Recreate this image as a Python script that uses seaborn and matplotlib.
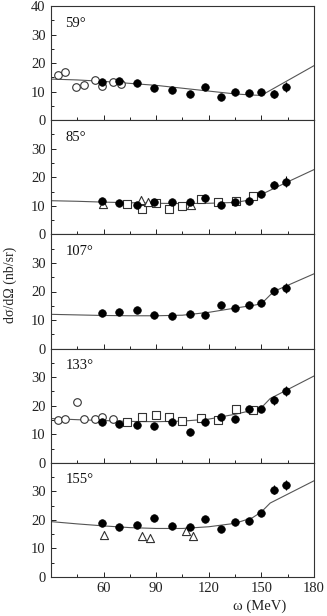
import numpy as np
import pandas as pd
import matplotlib
matplotlib.use("Agg")
import matplotlib.pyplot as plt
import seaborn as sns
from matplotlib.ticker import FixedLocator, MultipleLocator

sns.set_theme(style="ticks")
plt.rcParams['font.family'] = ['Liberation Serif', 'DejaVu Serif']
plt.rcParams['mathtext.fontset'] = 'stix'

angles = ["59°", "85°", "107°", "133°", "155°"]

# TAPS (filled circles)
taps_x = [59, 69, 79, 89, 99, 109, 118, 127, 135, 143, 150, 157, 164]
taps_59 = [13.3, 13.8, 13.1, 11.3, 10.7, 9.3, 11.7, 8.1, 9.9, 9.4, 10.0, 9.2, 11.7]
taps_85 = [11.8, 11.0, 10.3, 11.2, 11.2, 11.2, 12.8, 10.4, 11.3, 11.8, 14.1, 17.3, 18.5]
taps_107 = [12.5, 12.9, 13.6, 11.8, 11.5, 12.0, 11.6, 15.4, 14.2, 15.2, 15.8, 20.1, 21.3]
taps_133 = [14.3, 13.7, 13.1, 12.9, 14.2, 10.7, 14.4, 16.0, 15.2, 18.7, 19.0, 21.9, 25.2]
taps_155 = [19.0, 17.5, 18.3, 20.5, 17.9, 17.4, 20.3, 16.7, 19.3, 19.6, 22.5, 30.6, 32.1]
taps_err = [0.6, 0.6, 0.6, 0.6, 0.6, 0.6, 0.7, 0.7, 0.8, 0.9, 1.0, 1.5, 1.8]

# open circles
oc_x_59 = [34, 38, 44, 49, 55, 59, 65.5, 70]
oc_59 = [15.9, 16.9, 11.5, 12.5, 14.0, 12.1, 13.4, 12.7]
oc_x_133 = [34, 38, 44.6, 49, 55, 59, 65.5]
oc_133 = [15.1, 15.3, 21.2, 15.2, 15.2, 16.2, 15.5]

# open squares
sq_x = [73.5, 82, 89.8, 97.2, 105, 115.3, 125.2, 135.5, 145.3]
sq_85 = [10.8, 9.0, 11.0, 8.8, 9.8, 12.3, 11.3, 11.8, 13.5]
sq_133 = [14.4, 16.0, 16.7, 16.0, 14.7, 15.8, 14.9, 18.7, 18.4]

# open triangles
tr_x_85 = [59.8, 81.1, 85.5, 109.9]
tr_85 = [10.8, 11.9, 11.3, 10.2]
tr_x_155 = [60, 82, 86.6, 107, 111]
tr_155 = [14.7, 14.2, 13.7, 16.0, 14.4]

# theory curves
cx_59 = [30, 45, 60, 75, 90, 105, 120, 135, 145, 150, 165, 180]
cy_59 = [14.4, 14.1, 13.6, 12.9, 12.2, 11.2, 10.2, 9.2, 8.8, 8.7, 13.9, 19.1]
cx_85 = [30, 45, 60, 75, 90, 105, 120, 135, 145, 150, 165, 180]
cy_85 = [11.8, 11.6, 11.3, 11.1, 10.9, 10.8, 10.9, 11.2, 12.2, 14.0, 18.4, 22.7]
cx_107 = [30, 45, 60, 75, 90, 105, 120, 135, 145, 150, 157, 180]
cy_107 = [12.0, 11.8, 11.6, 11.5, 11.5, 11.7, 12.7, 14.2, 15.1, 15.7, 20.0, 26.2]
cx_133 = [30, 45, 60, 75, 90, 105, 120, 135, 145, 150, 155, 180]
cy_133 = [15.5, 15.1, 14.8, 14.5, 14.4, 14.6, 15.3, 17.0, 18.4, 19.3, 22.5, 30.4]
cx_155 = [30, 45, 60, 75, 90, 105, 120, 135, 145, 150, 155, 180]
cy_155 = [19.4, 18.6, 17.9, 17.3, 17.0, 17.0, 17.6, 18.8, 20.8, 22.8, 25.9, 33.7]

panels = [
    dict(label=angles[0], taps=taps_59, oc=(oc_x_59, oc_59), curve=(cx_59, cy_59)),
    dict(label=angles[1], taps=taps_85, sq=(sq_x, sq_85), tr=(tr_x_85, tr_85), curve=(cx_85, cy_85)),
    dict(label=angles[2], taps=taps_107, curve=(cx_107, cy_107)),
    dict(label=angles[3], taps=taps_133, oc=(oc_x_133, oc_133), sq=(sq_x, sq_133), curve=(cx_133, cy_133)),
    dict(label=angles[4], taps=taps_155, tr=(tr_x_155, tr_155), curve=(cx_155, cy_155)),
]

W, H = 327, 616
fig = plt.figure(figsize=(W / 100, H / 100), dpi=100)
left, right = 51 / W, 314 / W
top_px, bot_px = 6, 577
ph = (bot_px - top_px) / 5

fs = 10.5
axes = []
for i, p in enumerate(panels):
    y0 = bot_px - (5 - i) * ph + ph
    ax = fig.add_axes([left, 1 - (top_px + (i + 1) * ph) / H, right - left, ph / H])
    axes.append(ax)
    ax.set_facecolor("white")
    cdf = pd.DataFrame({"w": p["curve"][0], "s": p["curve"][1]})
    sns.lineplot(data=cdf, x="w", y="s", ax=ax, color="#555555", lw=0.8, zorder=2)
    if "oc" in p:
        ax.errorbar(p["oc"][0], p["oc"][1], yerr=0.9, fmt="none", ecolor="#333333", elinewidth=0.7, zorder=3)
        sns.scatterplot(x=p["oc"][0], y=p["oc"][1], ax=ax, marker="o", s=30,
                        facecolor="white", edgecolor="#333333", linewidth=0.8, zorder=4)
    if "sq" in p:
        ax.errorbar(p["sq"][0], p["sq"][1], yerr=0.9, fmt="none", ecolor="#333333", elinewidth=0.7, zorder=3)
        sns.scatterplot(x=p["sq"][0], y=p["sq"][1], ax=ax, marker="s", s=34,
                        facecolor="white", edgecolor="#333333", linewidth=0.8, zorder=4)
    if "tr" in p:
        sns.scatterplot(x=p["tr"][0], y=p["tr"][1], ax=ax, marker="^", s=34,
                        facecolor="white", edgecolor="#333333", linewidth=0.8, zorder=4)
    ax.errorbar(taps_x, p["taps"], yerr=taps_err, fmt="none", ecolor="black", elinewidth=0.8, zorder=5)
    sns.scatterplot(x=taps_x, y=p["taps"], ax=ax, marker="o", s=30, color="black",
                    edgecolor="black", linewidth=0.5, zorder=6)

    ax.set_xlim(30, 180)
    ax.set_ylim(0, 40)
    ax.xaxis.set_major_locator(FixedLocator([60, 90, 120, 150, 180]))
    ax.xaxis.set_minor_locator(FixedLocator([30, 45, 75, 105, 135, 165]))
    if i == 0:
        ax.set_yticks([0, 10, 20, 30, 40])
    else:
        ax.set_yticks([0, 10, 20, 30])
    ax.yaxis.set_minor_locator(MultipleLocator(5))
    ax.tick_params(axis="both", which="both", direction="in", labelsize=fs, colors="#222222",
                   top=False, right=False)
    ax.tick_params(axis="both", which="major", length=3.5, width=0.7)
    ax.tick_params(axis="both", which="minor", length=2.5, width=0.7)
    ax.tick_params(axis="y", pad=4)
    if i < 4:
        ax.tick_params(axis="x", labelbottom=False)
    for s in ax.spines.values():
        s.set_color("#333333")
        s.set_linewidth(0.8)
    ax.set_xlabel("")
    ax.set_ylabel("")
    ax.text(0.055, 0.85, p["label"], transform=ax.transAxes, fontsize=fs, ha="left", va="center",
            color="#111111")

fig.text(10 / W, 1 - 285 / H, "dσ/dΩ (nb/sr)", rotation=90, ha="center", va="center",
         fontsize=fs - 0.5, color="#222222")
fig.text(260 / W, 1 - 606 / H, "ω (MeV)", ha="center", va="center", fontsize=fs, color="#222222")

fig.savefig("out.png", dpi=100, facecolor="white")
